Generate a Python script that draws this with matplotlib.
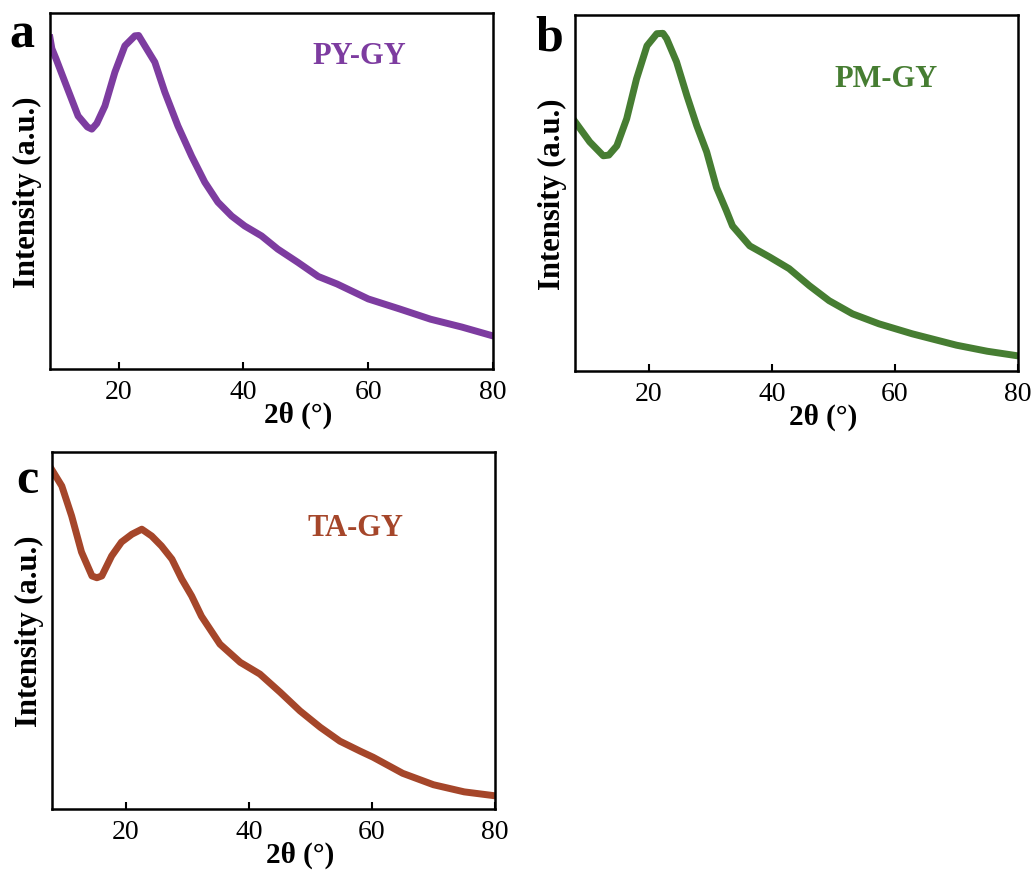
import numpy as np
import matplotlib.pyplot as plt

plt.rcParams['font.family'] = ['Liberation Serif', 'DejaVu Serif']

# XRD patterns, intensity (normalised to the axes height)
ang_a = [9, 9.3, 10, 11.4, 13.5, 15, 15.7, 16.5, 17.8, 19.4, 21, 22.6, 23.2,
         24.2, 25.8, 27.4, 29.5, 31.7, 33.8, 35.9, 38.1, 40.2, 42.9, 45.5, 48.7,
         52, 55, 60, 65, 70, 75, 80]
int_a = [0.930, 0.900, 0.870, 0.806, 0.711, 0.680, 0.674, 0.690, 0.739, 0.834,
         0.908, 0.936, 0.937, 0.908, 0.862, 0.778, 0.683, 0.598, 0.525, 0.469,
         0.430, 0.402, 0.374, 0.337, 0.300, 0.260, 0.239, 0.197, 0.169, 0.140,
         0.118, 0.093]

ang_b = [8, 10.4, 12.6, 13.5, 14.8, 16.4, 18, 19.7, 21.3, 22.3, 22.9, 24.5,
         26.2, 27.8, 29.4, 31, 32.6, 33.6, 36.4, 39.6, 42.8, 46.1, 49.3, 53.1,
         57.4, 62.8, 70, 75, 80]
int_b = [0.700, 0.643, 0.604, 0.606, 0.632, 0.708, 0.820, 0.913, 0.947, 0.948,
         0.933, 0.868, 0.772, 0.688, 0.615, 0.515, 0.450, 0.407, 0.351, 0.320,
         0.287, 0.239, 0.197, 0.160, 0.132, 0.104, 0.072, 0.055, 0.042]

ang_c = [8, 9.6, 11.2, 12.8, 14.5, 15.3, 16.1, 17.7, 19.3, 21, 22.6, 24.2,
         25.8, 27.5, 29.1, 30.7, 32.3, 35.3, 38.6, 41.8, 45.1, 48.3, 51.6, 54.8,
         58.1, 60.2, 65, 70, 75, 80]
int_c = [0.950, 0.905, 0.821, 0.720, 0.653, 0.648, 0.653, 0.709, 0.748, 0.770,
         0.784, 0.765, 0.737, 0.700, 0.644, 0.597, 0.540, 0.462, 0.411, 0.378,
         0.327, 0.275, 0.229, 0.190, 0.162, 0.145, 0.100, 0.068, 0.048, 0.037]

names = ['PY-GY', 'PM-GY', 'TA-GY']
letters = ['a', 'b', 'c']
colors = ['#7D3CA0', '#467D32', '#A5462A']

fig = plt.figure(figsize=(10.31, 8.79), dpi=100)

#axes boxes [left, bottom, width, height] in figure fractions
boxes = [[0.0485, 0.579, 0.4297, 0.405],
         [0.5577, 0.577, 0.4297, 0.405],
         [0.0504, 0.0785, 0.4297, 0.406]]
xmins = [9, 8, 8]
label_pos = [(58.6, 0.88), (58.6, 0.82), (57.3, 0.79)]
letter_pos = [(0.021, 0.960), (0.533, 0.956), (0.027, 0.453)]

data = [(ang_a, int_a), (ang_b, int_b), (ang_c, int_c)]

for i in range(3):
    ax = fig.add_axes(boxes[i])
    x, y = data[i]
    ax.plot(x, y, color=colors[i], lw=5, solid_joinstyle='round')
    ax.set_xlim(xmins[i], 80)
    ax.set_ylim(0, 1)
    ax.set_xticks([20, 40, 60, 80])
    ax.set_yticks([])
    ax.tick_params(axis='x', direction='in', length=5, width=1.5,
                   labelsize=20, pad=7)
    for s in ax.spines.values():
        s.set_linewidth(1.8)
    ax.set_xlabel('2θ (°)', fontsize=21, fontweight='bold')
    ax.xaxis.set_label_coords(0.56, -0.09)
    ax.set_ylabel('Intensity (a.u.)', fontsize=22, fontweight='bold', labelpad=6)
    ax.text(label_pos[i][0], label_pos[i][1], names[i], color=colors[i],
            fontsize=22, fontweight='bold', ha='center', va='center')
    fig.text(letter_pos[i][0], letter_pos[i][1], letters[i], fontsize=36,
             fontweight='bold', ha='center', va='center')

fig.savefig('out.png', dpi=100)
